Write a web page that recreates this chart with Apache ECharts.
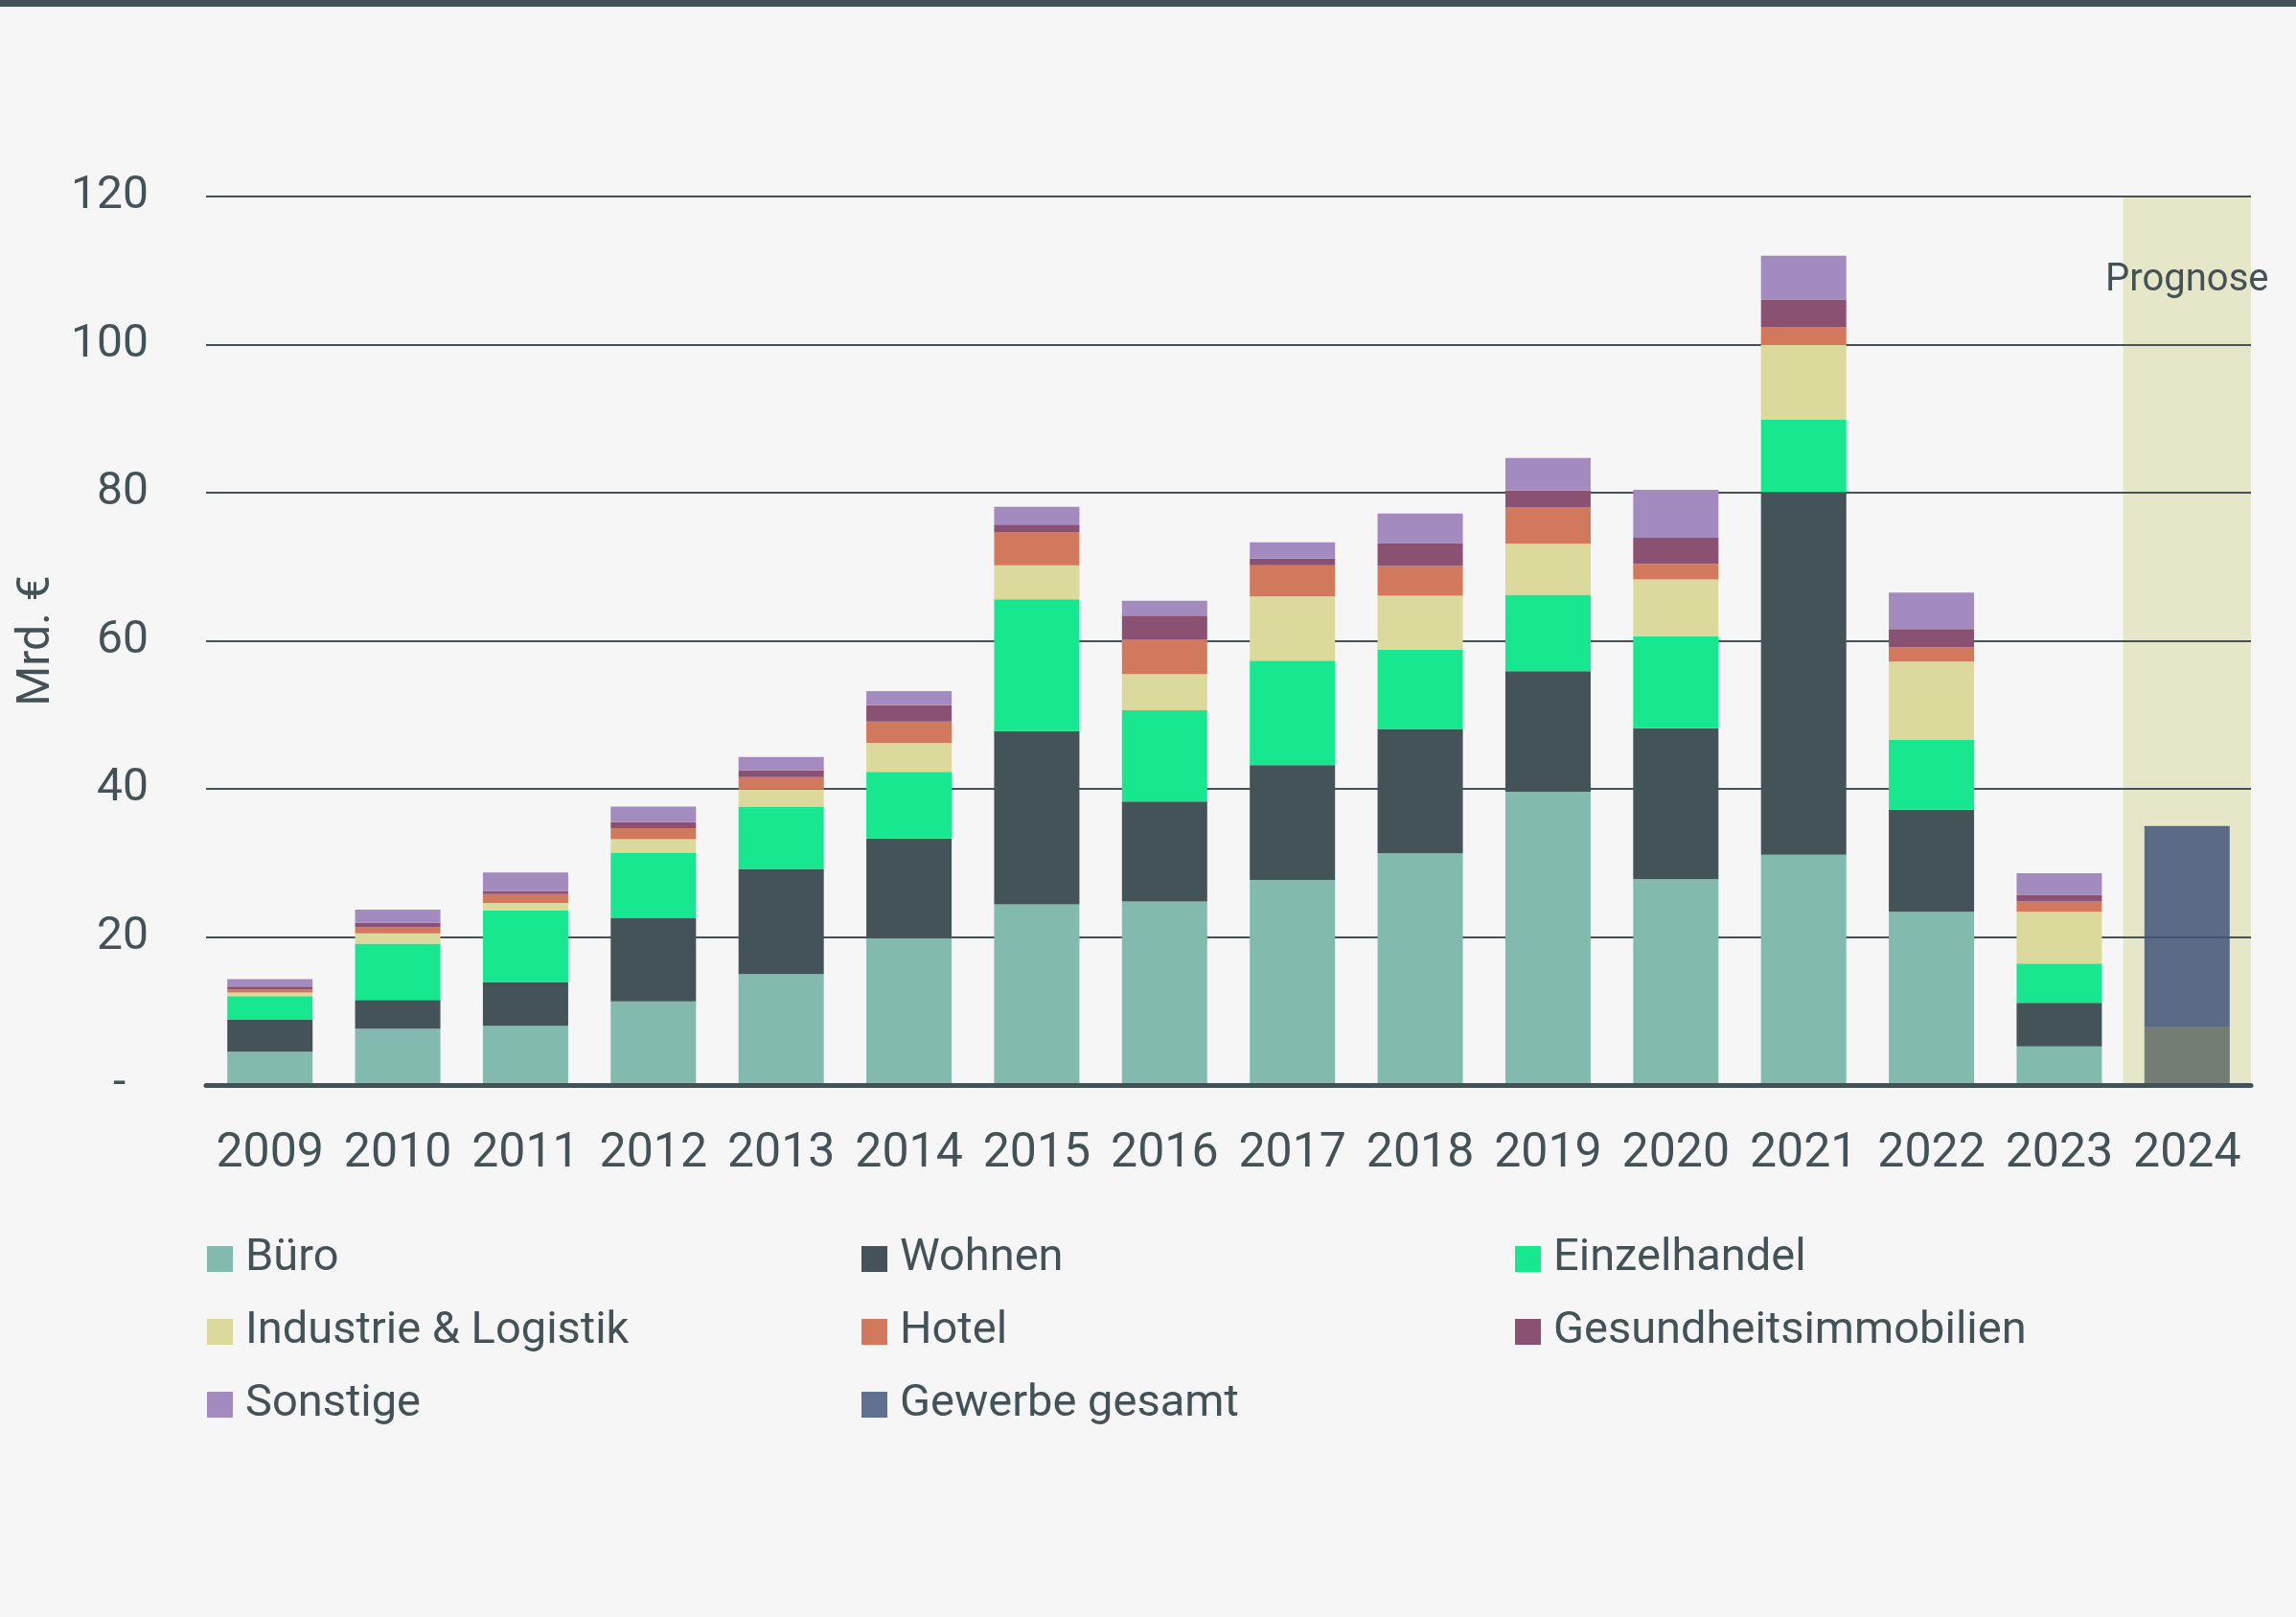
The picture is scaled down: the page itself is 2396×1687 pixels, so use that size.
<!DOCTYPE html>
<html>
<head>
<meta charset="utf-8">
<script src="https://cdn.jsdelivr.net/npm/echarts@6/dist/echarts.min.js"></script>
<style>
  html, body { margin: 0; padding: 0; background: #f6f6f6; }
  #main { width: 2396px; height: 1687px; }
</style>
</head>
<body>
<div id="main"></div>
<script>
var years = ['2009', '2010', '2011', '2012', '2013', '2014', '2015', '2016', '2017', '2018', '2019', '2020', '2021', '2022', '2023', '2024'];
var yTicks = [0, 20, 40, 60, 80, 100, 120];

// Mrd. €, gestapelt von unten nach oben
var buero = [4.5, 7.6, 8.0, 11.3, 15.0, 19.8, 24.4, 24.8, 27.7, 31.3, 39.6, 27.8, 31.1, 23.4, 5.2, null];
var wohnen = [4.3, 3.9, 5.9, 11.3, 14.2, 13.5, 23.4, 13.5, 15.5, 16.8, 16.3, 20.4, 49.0, 13.8, 5.9, 7.9];
var einzelhandel = [3.2, 7.6, 9.7, 8.8, 8.4, 9.0, 17.8, 12.3, 14.1, 10.7, 10.3, 12.4, 9.8, 9.4, 5.3, null];
var industrie = [0.5, 1.4, 1.0, 1.8, 2.3, 3.9, 4.6, 4.9, 8.7, 7.3, 6.9, 7.7, 10.1, 10.6, 7.0, null];
var hotel = [0.4, 0.8, 1.2, 1.5, 1.7, 2.9, 4.5, 4.7, 4.2, 4.0, 4.9, 2.1, 2.4, 1.9, 1.4, null];
var gesundheit = [0.4, 0.6, 0.4, 0.8, 0.9, 2.2, 1.0, 3.2, 0.9, 3.1, 2.3, 3.5, 3.7, 2.5, 0.9, null];
var sonstige = [1.0, 1.8, 2.5, 2.1, 1.8, 1.9, 2.4, 2.0, 2.2, 4.0, 4.4, 6.5, 5.9, 4.9, 2.9, null];
var gewerbe = [null, null, null, null, null, null, null, null, null, null, null, null, null, null, null, 27.1];
// Hinterlegung des Prognosejahres ueber die volle Achsenhoehe
var prognoseFlaeche = [null, null, null, null, null, null, null, null, null, null, null, null, null, null, null, 120];

var textColor = '#435256';
var font = 'Roboto';

// Prognosejahr wirkt leicht transparent ueber der Flaeche
function prognose(values, color) {
  return values.map(function (v, i) {
    if (years[i] !== '2024' || v == null) return v;
    return { value: v, itemStyle: { color: color, opacity: 0.85 } };
  });
}

function bar(name, color, data) {
  return {
    name: name,
    type: 'bar',
    stack: 'total',
    barWidth: 89,
    z: 3,
    itemStyle: { color: color },
    emphasis: { disabled: true },
    data: data
  };
}

function legendCol(left, names) {
  return {
    left: left, top: 1290, orient: 'vertical', padding: 0,
    itemWidth: 27, itemHeight: 27, itemGap: 29, icon: 'rect',
    textStyle: { fontSize: 47, color: textColor, padding: [0, 0, 0, 8] },
    data: names
  };
}

var myChart = echarts.init(document.getElementById('main'));

myChart.setOption({
  backgroundColor: '#f6f6f6',
  animation: false,
  textStyle: { fontFamily: font, color: textColor },
  graphic: [
    { type: 'rect', left: 0, top: 0, shape: { width: 2396, height: 7 }, style: { fill: '#435256' } }
  ],
  grid: { left: 215, right: 47, top: 205, bottom: 555 },
  legend: [
    legendCol(216, ['Büro', 'Industrie & Logistik', 'Sonstige']),
    legendCol(899, ['Wohnen', 'Hotel', 'Gewerbe gesamt']),
    legendCol(1581, ['Einzelhandel', 'Gesundheitsimmobilien'])
  ],
  xAxis: [
    {
      type: 'category',
      data: years,
      z: 4,
      axisLine: { lineStyle: { color: '#435256', width: 5 } },
      axisTick: { show: false },
      axisLabel: { fontSize: 50, color: textColor, margin: 47, interval: 0 }
    },
    {
      type: 'category',
      data: years,
      show: false
    }
  ],
  yAxis: {
    type: 'value',
    min: yTicks[0],
    max: yTicks[yTicks.length - 1],
    interval: 20,
    z: 2,
    name: 'Mrd. €',
    nameLocation: 'middle',
    nameRotate: 90,
    nameGap: 128,
    nameTextStyle: { fontSize: 48, color: textColor },
    axisLine: { show: false },
    axisTick: { show: false },
    axisLabel: {
      fontSize: 48, color: textColor, margin: 60,
      formatter: function (v) { return v === 0 ? '-  ' : String(v); }
    },
    splitLine: { lineStyle: { color: '#435256', width: 2 } }
  },
  series: [
    {
      name: 'Prognose',
      type: 'bar',
      xAxisIndex: 1,
      // eigene, unterste Ebene: Gitterlinien liegen sicher darueber
      zlevel: -1,
      z: 0,
      barWidth: '100%',
      silent: true,
      itemStyle: { color: '#e6e6c8' },
      label: {
        show: true, position: 'insideTop', distance: 68,
        fontSize: 40, color: textColor, fontFamily: font,
        formatter: 'Prognose'
      },
      data: prognoseFlaeche
    },
    bar('Büro', '#82baad', buero),
    bar('Wohnen', '#435357', prognose(wohnen, '#5f6a65')),
    bar('Einzelhandel', '#17e88f', einzelhandel),
    bar('Industrie & Logistik', '#dbd99c', industrie),
    bar('Hotel', '#d2785c', hotel),
    bar('Gesundheitsimmobilien', '#8a5172', gesundheit),
    bar('Sonstige', '#a38abf', sonstige),
    bar('Gewerbe gesamt', '#5f7090', prognose(gewerbe, '#42557a'))
  ]
});
</script>
</body>
</html>
